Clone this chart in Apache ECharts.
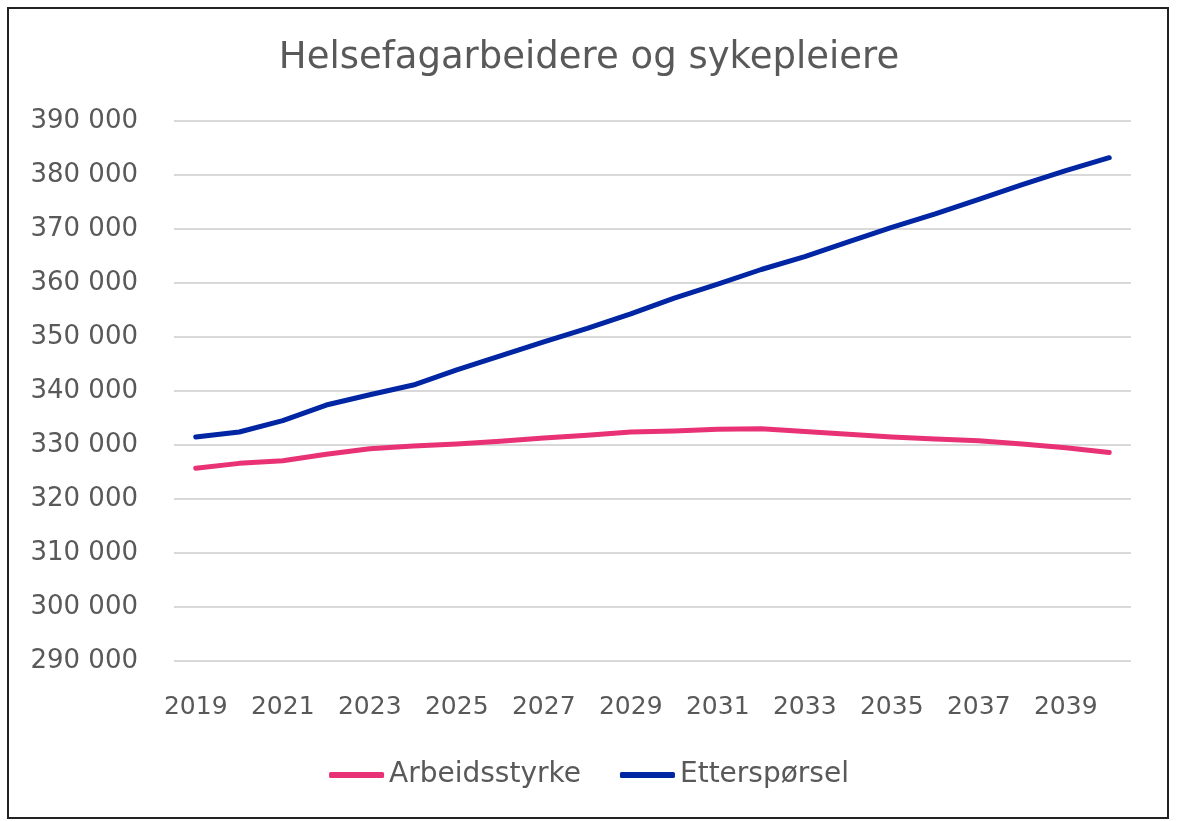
<!DOCTYPE html>
<html>
<head>
<meta charset="utf-8">
<script src="https://cdn.jsdelivr.net/npm/echarts@6/dist/echarts.min.js"></script>
<style>
  html, body { margin: 0; padding: 0; background: #fff; }
  #chart { width: 1178px; height: 821px; }
</style>
</head>
<body>
<div id="chart"></div>
<script>
// years on the x axis
const years = ['2019','2020','2021','2022','2023','2024','2025','2026','2027','2028','2029',
  '2030','2031','2032','2033','2034','2035','2036','2037','2038','2039','2040'];

// Arbeidsstyrke (labour force)
const arbeidsstyrke = [325700, 326600, 327100, 328300, 329300, 329800, 330200, 330700, 331300, 331800, 332400,
  332600, 332900, 333000, 332500, 332000, 331500, 331100, 330800, 330200, 329500, 328600];

// Etterspørsel (demand)
const ettersporsel = [331500, 332400, 334500, 337400, 339300, 341100, 343900, 346500, 349100, 351600, 354300,
  357200, 359800, 362500, 364900, 367600, 370300, 372800, 375500, 378200, 380800, 383200];

const yMin = 290000, yMax = 390000, yStep = 10000;

const textColor = '#595959';
const fontFam = '"DejaVu Sans", sans-serif';

const chart = echarts.init(document.getElementById('chart'));

chart.setOption({
  animation: false,
  graphic: [{
    type: 'rect',
    shape: { x: 8, y: 8, width: 1160, height: 810 },
    style: { fill: 'none', stroke: '#222', lineWidth: 2 },
    silent: true
  }],
  title: {
    text: 'Helsefagarbeidere og sykepleiere',
    left: 'center',
    top: 35,
    textStyle: { color: textColor, fontFamily: fontFam, fontSize: 37, fontWeight: 'normal' }
  },
  legend: {
    top: 756,
    left: 'center',
    icon: 'roundRect',
    itemWidth: 55,
    itemHeight: 6,
    itemGap: 39,
    textStyle: { color: textColor, fontFamily: fontFam, fontSize: 28 },
    data: ['Arbeidsstyrke', 'Etterspørsel']
  },
  grid: { left: 174, right: 47, top: 121, bottom: 160 },
  xAxis: {
    type: 'category',
    data: years,
    boundaryGap: true,
    axisLine: { show: false },
    axisTick: { show: false },
    axisLabel: {
      interval: 1,
      margin: 34,
      color: textColor,
      fontFamily: fontFam,
      fontSize: 25
    }
  },
  yAxis: {
    type: 'value',
    min: yMin,
    max: yMax,
    interval: yStep,
    axisLine: { show: false },
    axisTick: { show: false },
    splitLine: { lineStyle: { color: '#d9d9d9', width: 2 } },
    axisLabel: {
      margin: 36,
      color: textColor,
      fontFamily: fontFam,
      fontSize: 26,
      formatter: function (v) {
        return String(v).replace(/\B(?=(\d{3})+(?!\d))/g, ' ');
      }
    }
  },
  series: [
    {
      name: 'Arbeidsstyrke',
      type: 'line',
      data: arbeidsstyrke,
      showSymbol: false,
      symbol: 'none',
      color: '#E83275',
      lineStyle: { width: 5, cap: 'round', join: 'round' }
    },
    {
      name: 'Etterspørsel',
      type: 'line',
      data: ettersporsel,
      showSymbol: false,
      symbol: 'none',
      color: '#0026A3',
      lineStyle: { width: 5, cap: 'round', join: 'round' }
    }
  ]
});
</script>
</body>
</html>
